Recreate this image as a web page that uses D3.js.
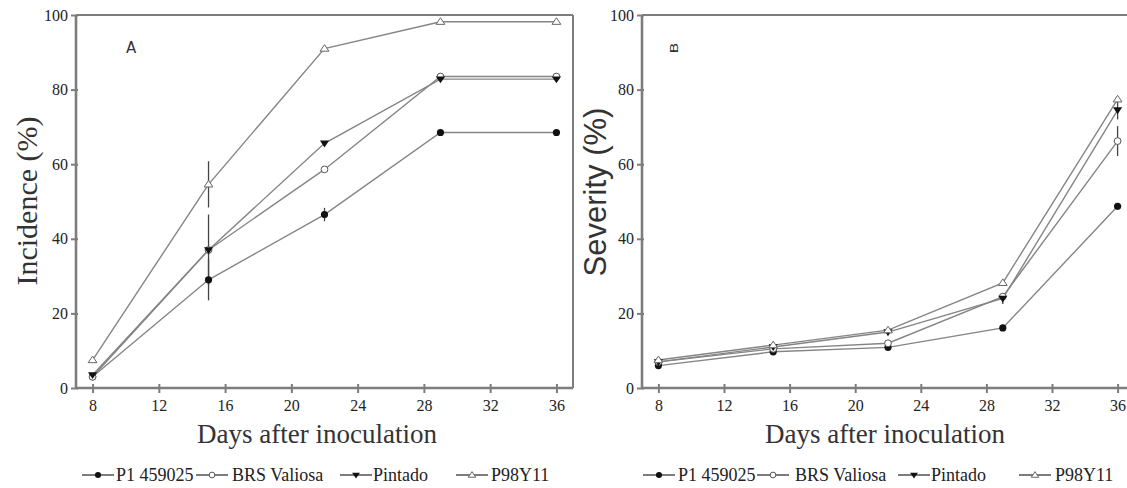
<!DOCTYPE html>
<html>
<head>
<meta charset="utf-8">
<script src="https://cdn.jsdelivr.net/npm/d3@7"></script>
<style>
  body { margin: 0; background: #fff; }
  svg { display: block; }
</style>
</head>
<body>
<div id="chart"></div>
<script>
// Data
const days = [8, 15, 22, 29, 36];
const xTicks = [8, 12, 16, 20, 24, 28, 32, 36];
const yTicks = [0, 20, 40, 60, 80, 100];
const cultivars = ["P1 459025", "BRS Valiosa", "Pintado", "P98Y11"];
const markers = ["dotFilled", "dotOpen", "triDownFilled", "triUpOpen"];

// Panel A: incidence (%)
const incP1 = [3, 29, 46.5, 68.5, 68.5];
const incBRS = [3, 37, 58.6, 83.5, 83.5];
const incPintado = [3.5, 37, 65.6, 82.8, 82.8];
const incP98 = [7.5, 54.6, 91, 98.2, 98.2];
const incErrP1 = [0, 5.5, 1.8, 0, 0];
const incErrBRS = [0, 9.5, 0, 0, 0];
const incErrPintado = [0, 0, 0, 0, 0];
const incErrP98 = [0, 6.2, 0, 0, 0];

// Panel B: severity (%)
const sevP1 = [6, 9.7, 10.9, 16.1, 48.7];
const sevBRS = [7, 10.5, 12, 24.5, 66.2];
const sevPintado = [7, 11, 15, 24, 74.5];
const sevP98 = [7.5, 11.5, 15.5, 28.2, 77.4];
const sevErrP1 = [0, 0, 0, 0, 0];
const sevErrBRS = [0, 0, 0, 0, 4];
const sevErrPintado = [0, 0, 0, 1.5, 2.5];
const sevErrP98 = [0, 0, 0, 0, 0];

const width = 1127;
const height = 488;
const axisGrey = "#7d7d7d";
const lineGrey = "#858585";
const serif = "'Liberation Serif', 'Times New Roman', serif";

const svg = d3.select("#chart")
    .append("svg")
    .attr("width", width)
    .attr("height", height);

function marker(g, type, x, y, s) {
    if (type === "dotFilled") {
        g.append("circle").attr("cx", x).attr("cy", y).attr("r", 3.6 * s)
            .attr("fill", "#111");
    } else if (type === "dotOpen") {
        g.append("circle").attr("cx", x).attr("cy", y).attr("r", 3.4 * s)
            .attr("fill", "#fff").attr("stroke", "#555").attr("stroke-width", 1);
    } else if (type === "triDownFilled") {
        const r = 4.6 * s;
        g.append("path")
            .attr("d", `M${x - r},${y - r * 0.6}L${x + r},${y - r * 0.6}L${x},${y + r * 0.9}Z`)
            .attr("fill", "#111");
    } else {
        const r = 4.4 * s;
        g.append("path")
            .attr("d", `M${x},${y - r * 0.9}L${x + r},${y + r * 0.6}L${x - r},${y + r * 0.6}Z`)
            .attr("fill", "#fff").attr("stroke", "#666").attr("stroke-width", 1);
    }
}

function panel(opts) {
    const { left, top, w, h, series, errors, letter, yTitle, yTitleFont, yTitleX,
            xTitleX, legendX, legendTexts, frameRight } = opts;

    const x = d3.scaleLinear().domain([7, 37]).range([left, left + w]);
    const y = d3.scaleLinear().domain([0, 100]).range([top + h, top]);

    const g = svg.append("g");

    // frame (top and right)
    g.append("line")
        .attr("x1", left).attr("x2", Math.max(left + w, width))
        .attr("y1", top).attr("y2", top)
        .attr("stroke", axisGrey).attr("stroke-width", 2);
    if (frameRight) {
        g.append("line")
            .attr("x1", left + w).attr("x2", left + w)
            .attr("y1", top).attr("y2", top + h)
            .attr("stroke", axisGrey).attr("stroke-width", 2);
        g.select("line").attr("x2", left + w);
    }

    // axes
    const xAxis = g.append("g")
        .attr("transform", `translate(0,${top + h})`)
        .call(d3.axisBottom(x).tickValues(xTicks).tickSize(5).tickPadding(7));
    xAxis.selectAll(".tick line").clone().attr("y2", -4);
    const yAxis = g.append("g")
        .attr("transform", `translate(${left},0)`)
        .call(d3.axisLeft(y).tickValues(yTicks).tickSize(5).tickPadding(3));
    yAxis.selectAll(".tick line").clone().attr("x2", 2);

    [xAxis, yAxis].forEach(a => {
        a.attr("font-family", serif);
        a.select(".domain").attr("stroke", axisGrey).attr("stroke-width", 2.6);
        a.selectAll(".tick line").attr("stroke", axisGrey).attr("stroke-width", 2);
        a.selectAll(".tick text")
            .attr("fill", "#222")
            .style("font-family", serif)
            .style("font-size", "16px");
    });
    xAxis.select(".domain").attr("d", `M${left},0H${Math.max(left + w, width)}`);
    if (frameRight) xAxis.select(".domain").attr("d", `M${left},0H${left + w}`);
    yAxis.select(".domain").attr("d", `M0,${top + h}V${top}`);

    // lines
    const line = d3.line().x(d => x(d[0])).y(d => y(d[1]));
    series.forEach(vals => {
        g.append("path")
            .datum(days.map((d, i) => [d, vals[i]]))
            .attr("d", line)
            .attr("fill", "none")
            .attr("stroke", lineGrey)
            .attr("stroke-width", 1.4);
    });

    // error bars
    series.forEach((vals, k) => {
        days.forEach((d, i) => {
            const e = errors[k][i];
            if (e > 0) {
                g.append("line")
                    .attr("x1", x(d)).attr("x2", x(d))
                    .attr("y1", y(vals[i] - e)).attr("y2", y(vals[i] + e))
                    .attr("stroke", "#444").attr("stroke-width", 1.3);
            }
        });
    });

    // markers
    series.forEach((vals, k) => {
        days.forEach((d, i) => marker(g, markers[k], x(d), y(vals[i]), 1));
    });

    // panel letter
    g.append("text")
        .attr("transform", letter.rotate
            ? `translate(${letter.x},${letter.y}) rotate(-90) scale(1.6,1)`
            : `translate(${letter.x},${letter.y})`)
        .attr("text-anchor", "middle")
        .attr("dominant-baseline", "central")
        .style("font-family", "'DejaVu Sans', sans-serif")
        .style("font-size", letter.size + "px")
        .attr("fill", "#333")
        .text(letter.text);

    // axis titles
    g.append("text")
        .attr("transform", `translate(${yTitleX},${opts.yTitleY}) rotate(-90)`)
        .attr("text-anchor", "middle")
        .attr("dominant-baseline", "central")
        .style("font-family", yTitleFont)
        .style("font-size", opts.yTitleSize + "px")
        .attr("fill", "#333")
        .text(yTitle);

    g.append("text")
        .attr("x", xTitleX).attr("y", 443)
        .attr("text-anchor", "middle")
        .style("font-family", serif)
        .style("font-size", "27px")
        .attr("fill", "#333")
        .text("Days after inoculation");

    // legend
    const lg = g.append("g");
    cultivars.forEach((c, k) => {
        const lx = legendX[k];
        lg.append("line")
            .attr("x1", lx).attr("x2", lx + 32)
            .attr("y1", 475).attr("y2", 475)
            .attr("stroke", "#444").attr("stroke-width", 1.4);
        marker(lg, markers[k], lx + 16, 475, 0.85);
        lg.append("text")
            .attr("x", legendTexts[k]).attr("y", 481)
            .style("font-family", serif)
            .style("font-size", "18px")
            .attr("fill", "#222")
            .text(c);
    });
}

panel({
    left: 76, top: 15, w: 497, h: 373,
    series: [incP1, incBRS, incPintado, incP98],
    errors: [incErrP1, incErrBRS, incErrPintado, incErrP98],
    letter: { text: "A", x: 131, y: 48, size: 15, rotate: false },
    yTitle: "Incidence (%)",
    yTitleFont: serif,
    yTitleSize: 30, yTitleX: 26, yTitleY: 201,
    xTitleX: 317,
    legendX: [82, 196, 340, 456],
    legendTexts: [116, 232, 373, 491],
    frameRight: true
});

panel({
    left: 642, top: 15, w: 492, h: 373,
    series: [sevP1, sevBRS, sevPintado, sevP98],
    errors: [sevErrP1, sevErrBRS, sevErrPintado, sevErrP98],
    letter: { text: "B", x: 675, y: 48, size: 10, rotate: true },
    yTitle: "Severity (%)",
    yTitleFont: "'Liberation Sans', Arial, sans-serif",
    yTitleSize: 31, yTitleX: 595, yTitleY: 192,
    xTitleX: 885,
    legendX: [643, 757, 898, 1019],
    legendTexts: [678, 795, 931, 1055],
    frameRight: false
});
</script>
</body>
</html>
